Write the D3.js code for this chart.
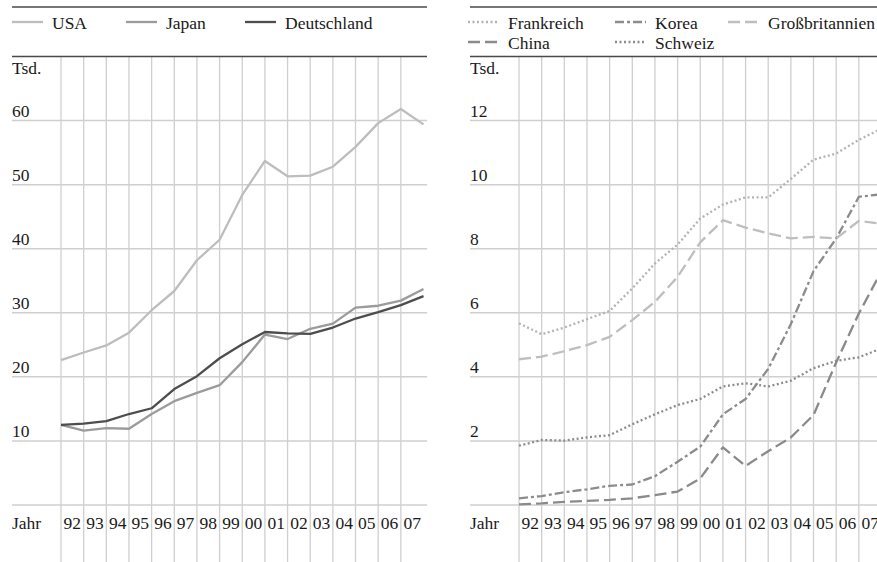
<!DOCTYPE html>
<html><head><meta charset="utf-8">
<script src="https://cdn.jsdelivr.net/npm/d3@7"></script>
<style>
html,body{margin:0;padding:0;background:#fff;}
svg{display:block;}
text{font-family:'Liberation Serif','DejaVu Serif',serif;}
</style></head>
<body>
<svg id="chart" width="877" height="562"></svg>
<script>
// ---- data ----
const years = [1991,1992,1993,1994,1995,1996,1997,1998,1999,2000,2001,2002,2003,2004,2005,2006,2007];
const yearLabels = ["92","93","94","95","96","97","98","99","00","01","02","03","04","05","06","07"];
const leftTicks = [0,10,20,30,40,50,60];
const rightTicks = [0,2,4,6,8,10,12];

const usa         = [22.6,23.8,24.9,26.9,30.4,33.4,38.2,41.4,48.4,53.7,51.3,51.4,52.8,55.9,59.6,61.8,59.4];
const japan       = [12.5,11.6,12.0,11.9,14.2,16.2,17.5,18.7,22.3,26.6,25.9,27.5,28.3,30.8,31.1,31.9,33.7];
const deutschland = [12.5,12.7,13.1,14.2,15.1,18.1,20.1,22.9,25.1,27.0,26.8,26.7,27.7,29.1,30.1,31.2,32.6];

const frankreich     = [5.67,5.33,5.54,5.80,6.06,6.76,7.54,8.13,8.94,9.38,9.60,9.60,10.18,10.78,10.97,11.40,11.75];
const korea          = [0.21,0.28,0.40,0.49,0.60,0.64,0.90,1.35,1.82,2.83,3.31,4.25,5.65,7.30,8.32,9.62,9.70];
const grossbritannien= [4.55,4.63,4.80,4.99,5.25,5.77,6.34,7.12,8.20,8.89,8.66,8.48,8.32,8.37,8.32,8.87,8.78];
const china          = [0.02,0.05,0.10,0.13,0.16,0.21,0.31,0.42,0.83,1.80,1.22,1.68,2.11,2.81,4.45,5.98,7.30];
const schweiz        = [1.85,2.03,2.01,2.11,2.18,2.52,2.83,3.12,3.31,3.70,3.80,3.70,3.88,4.27,4.50,4.61,4.89];

const leftSeries = [
  {name:"USA", values:usa, color:"#bdbdbd", dash:null},
  {name:"Japan", values:japan, color:"#9b9b9b", dash:null},
  {name:"Deutschland", values:deutschland, color:"#4d4d4d", dash:null}
];
const rightSeries = [
  {name:"Frankreich", values:frankreich, color:"#b3b3b3", dash:"2,2.5", row:0, col:0},
  {name:"Korea", values:korea, color:"#8c8c8c", dash:"9,3,3,3", row:0, col:1},
  {name:"Großbritannien", values:grossbritannien, color:"#bebebe", dash:"12,5", row:0, col:2},
  {name:"China", values:china, color:"#8a8a8a", dash:"12,5", row:1, col:0},
  {name:"Schweiz", values:schweiz, color:"#8c8c8c", dash:"2,2.5", row:1, col:1}
];

const svg = d3.select("#chart");
const FONT = "'Liberation Serif','DejaVu Serif',serif";
const FS = 17.5, TXT = "#1a1a1a", GRID = "#cfcfcf", RULE = "#4a4a4a";

function txt(g) {
  return g.append("text").attr("font-family", FONT).attr("font-size", FS).attr("fill", TXT);
}

function panel(cfg) {
  const g = svg.append("g");
  const x = d3.scaleLinear().domain([1991,2007]).range([cfg.x0, cfg.x0 + 362.5]);
  const y = d3.scaleLinear().domain([0, cfg.ymax]).range([505, 56.5]);
  const left = cfg.left, right = cfg.right;

  g.selectAll("line.h").data(cfg.ticks).join("line")
    .attr("x1", left).attr("x2", right)
    .attr("y1", d => y(d)).attr("y2", d => y(d))
    .attr("stroke", GRID).attr("stroke-width", 1.5);
  g.selectAll("line.v").data(years.slice(0,16)).join("line")
    .attr("x1", d => x(d)).attr("x2", d => x(d))
    .attr("y1", y(cfg.ymax)).attr("y2", 562)
    .attr("stroke", GRID).attr("stroke-width", 1.3);
  g.append("line").attr("x1", left).attr("x2", right).attr("y1", 7).attr("y2", 7)
    .attr("stroke", RULE).attr("stroke-width", 1.5);
  g.append("line").attr("x1", left).attr("x2", right).attr("y1", y(cfg.ymax)).attr("y2", y(cfg.ymax))
    .attr("stroke", RULE).attr("stroke-width", 1.5);

  cfg.ticks.filter(d => d > 0).forEach(d => {
    txt(g).attr("x", left).attr("y", y(d) - 4).text(d);
  });
  txt(g).attr("x", left).attr("y", 74).text("Tsd.");
  txt(g).attr("x", left).attr("y", 529).text("Jahr");
  yearLabels.forEach((d, i) => {
    txt(g).attr("x", (x(years[i]) + x(years[i+1])) / 2).attr("y", 529)
      .attr("text-anchor", "middle").text(d);
  });

  const line = d3.line().x((d,i) => x(years[i])).y(d => y(d));
  cfg.series.forEach(s => {
    const p = g.append("path").datum(s.values).attr("d", line)
      .attr("fill", "none").attr("stroke", s.color).attr("stroke-width", 2.3)
      .attr("stroke-linejoin", "round");
    if (s.dash) p.attr("stroke-dasharray", s.dash);
  });

  cfg.series.forEach((s, k) => {
    const lx = cfg.legX[s.col !== undefined ? s.col : k];
    const ly = s.row ? 42 : 22;
    const l = g.append("line").attr("x1", lx).attr("x2", lx + 31).attr("y1", ly).attr("y2", ly)
      .attr("stroke", s.color).attr("stroke-width", 2.3);
    if (s.dash) l.attr("stroke-dasharray", s.dash);
    txt(g).attr("x", lx + 40).attr("y", ly + 6.5).text(s.name);
  });
}

panel({x0:61, left:12, right:427, ymax:70, ticks:leftTicks, series:leftSeries, legX:[12,126,245]});
panel({x0:519, left:470, right:877, ymax:14, ticks:rightTicks, series:rightSeries, legX:[468,615,728]});
</script>
</body></html>
